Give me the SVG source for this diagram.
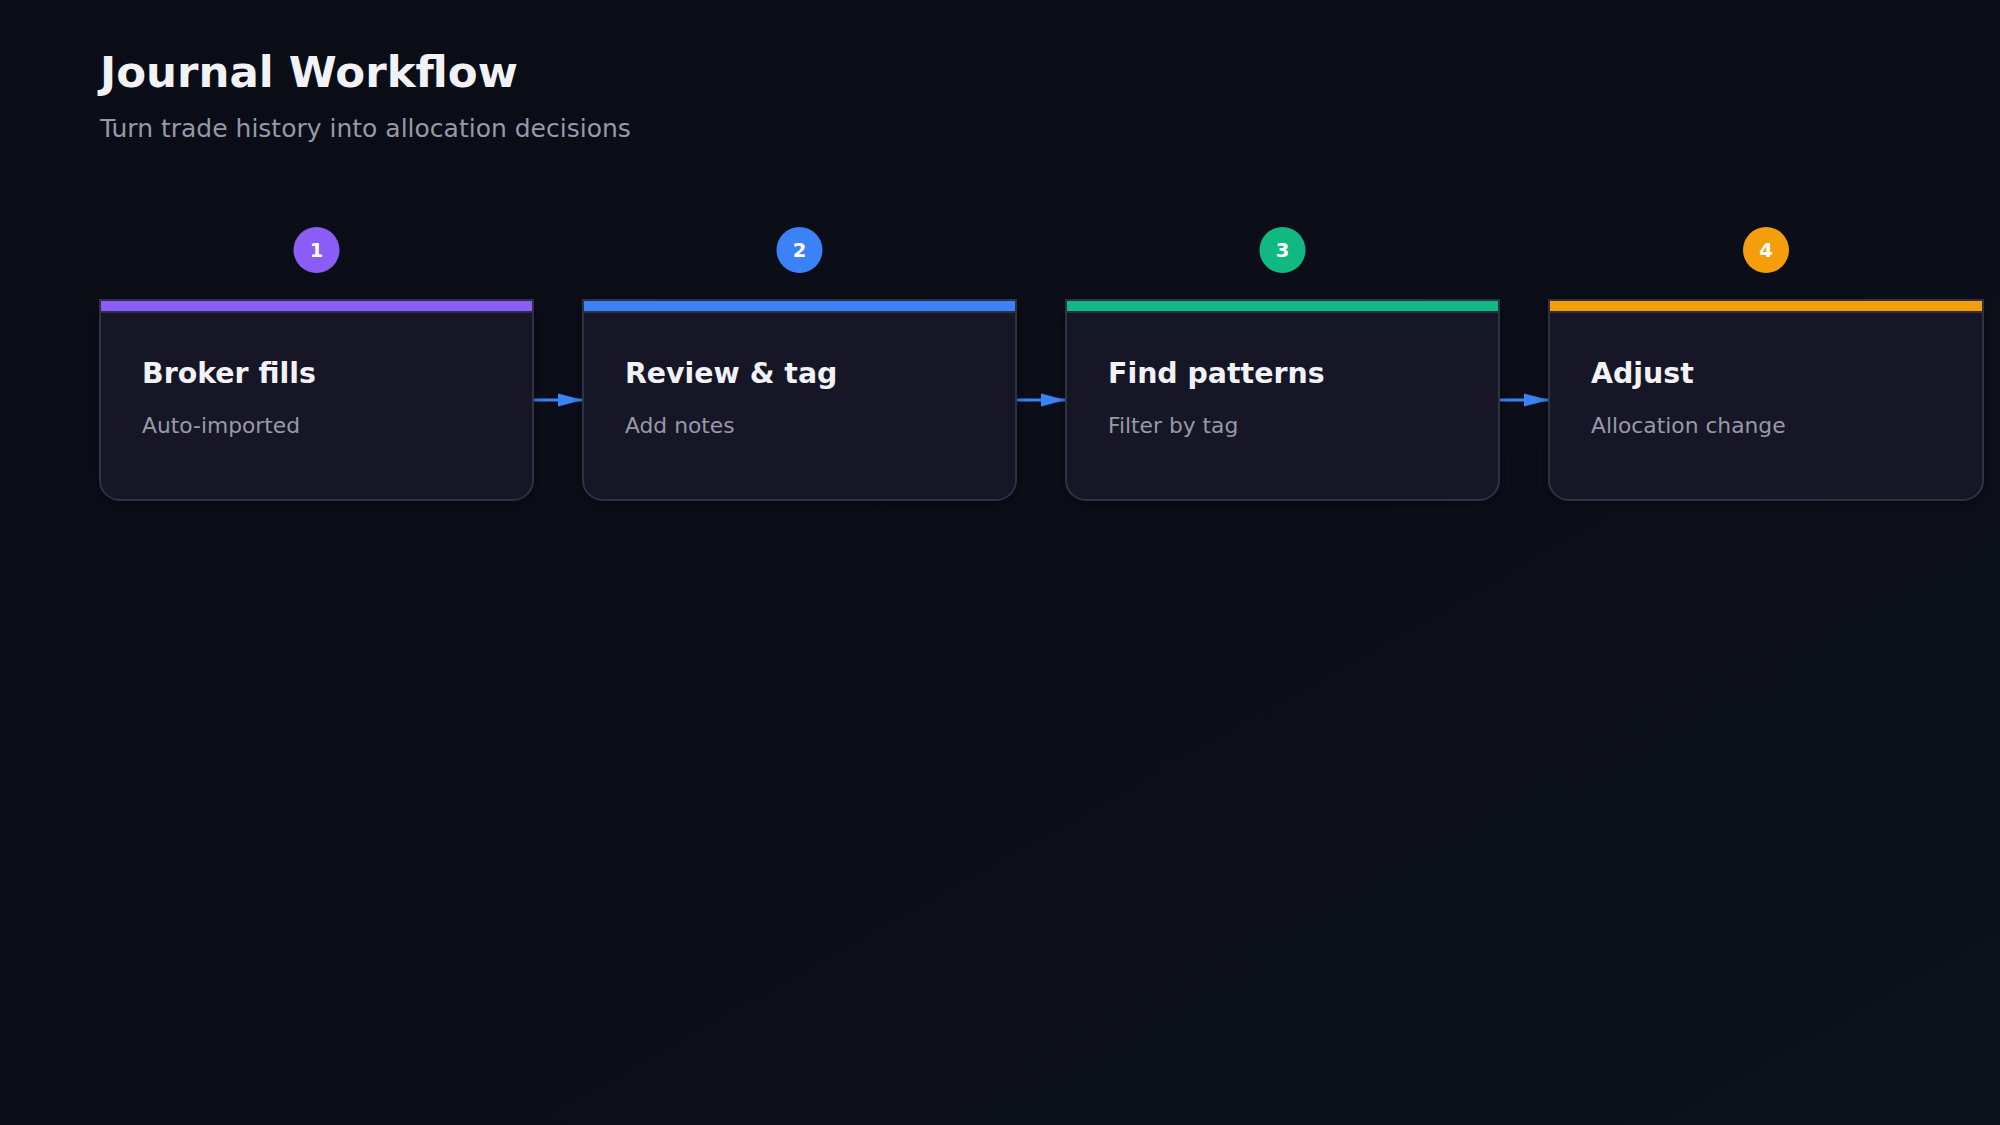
<svg xmlns="http://www.w3.org/2000/svg" width="2000" height="1125" viewBox="0 0 2000 1125">
  <defs>
    <linearGradient id="bg" x1="0" y1="0" x2="1" y2="1">
      <stop offset="0" stop-color="#0a0c16"/>
      <stop offset="0.55" stop-color="#0b0e18"/>
      <stop offset="1" stop-color="#0c111c"/>
    </linearGradient>
    <filter id="shadow" x="-10%" y="-10%" width="120%" height="130%">
      <feDropShadow dx="0" dy="4" stdDeviation="6" flood-color="#000000" flood-opacity="0.35"/>
    </filter>
    <marker id="arrow" viewBox="0 0 10 10" refX="10" refY="5" markerWidth="8.5" markerHeight="4.5" markerUnits="strokeWidth" orient="auto" preserveAspectRatio="none">
      <path d="M0,0 L10,5 L0,10 Z" fill="#3b82f6"/>
    </marker>
    <style>
      .title { font-family: "DejaVu Sans", sans-serif; font-weight: bold; font-size: 43.5px; fill: #f1f2f6; }
      .subtitle { font-family: "DejaVu Sans", sans-serif; font-size: 25px; fill: #9699a8; }
      .card { fill: #161625; stroke: #2e3144; stroke-width: 2; filter: url(#shadow); }
      .bar { stroke: #2e3144; stroke-width: 2; }
      .card-title { font-family: "DejaVu Sans", sans-serif; font-weight: bold; font-size: 28.4px; fill: #f1f2f6; }
      .card-sub { font-family: "DejaVu Sans", sans-serif; font-size: 21.8px; fill: #9699a8; }
      .badge-num { font-family: "DejaVu Sans", sans-serif; font-weight: bold; font-size: 19.5px; fill: #ffffff; text-anchor: middle; }
      .link { stroke: #3b82f6; stroke-width: 3; fill: none; marker-end: url(#arrow); }
    </style>
  </defs>

  <rect width="2000" height="1125" fill="url(#bg)"/>

  <text class="title" x="100" y="87">Journal Workflow</text>
  <text class="subtitle" x="100" y="137">Turn trade history into allocation decisions</text>

  <!-- connectors between steps -->
  <g id="connectors">
    <line class="link" x1="534" y1="400" x2="583" y2="400"/>
    <line class="link" x1="1017" y1="400" x2="1066" y2="400"/>
    <line class="link" x1="1500" y1="400" x2="1549" y2="400"/>
  </g>

  <!-- step 1 -->
  <g id="step-1">
    <circle cx="316.5" cy="250" r="23" fill="#8b5cf6"/>
    <text class="badge-num" x="316.5" y="257">1</text>
    <path class="card" d="M100,300 H533 V480 A20,20 0 0 1 513,500 H120 A20,20 0 0 1 100,480 Z"/>
    <rect class="bar" x="100" y="300" width="433" height="12" fill="#8b5cf6"/>
    <text class="card-title" x="142" y="383">Broker fills</text>
    <text class="card-sub" x="142" y="433">Auto-imported</text>
  </g>

  <!-- step 2 -->
  <g id="step-2">
    <circle cx="799.5" cy="250" r="23" fill="#3b82f6"/>
    <text class="badge-num" x="799.5" y="257">2</text>
    <path class="card" d="M583,300 H1016 V480 A20,20 0 0 1 996,500 H603 A20,20 0 0 1 583,480 Z"/>
    <rect class="bar" x="583" y="300" width="433" height="12" fill="#3b82f6"/>
    <text class="card-title" x="625" y="383">Review &amp; tag</text>
    <text class="card-sub" x="625" y="433">Add notes</text>
  </g>

  <!-- step 3 -->
  <g id="step-3">
    <circle cx="1282.5" cy="250" r="23" fill="#10b981"/>
    <text class="badge-num" x="1282.5" y="257">3</text>
    <path class="card" d="M1066,300 H1499 V480 A20,20 0 0 1 1479,500 H1086 A20,20 0 0 1 1066,480 Z"/>
    <rect class="bar" x="1066" y="300" width="433" height="12" fill="#10b981"/>
    <text class="card-title" x="1108" y="383">Find patterns</text>
    <text class="card-sub" x="1108" y="433">Filter by tag</text>
  </g>

  <!-- step 4 -->
  <g id="step-4">
    <circle cx="1766" cy="250" r="23" fill="#f59e0b"/>
    <text class="badge-num" x="1766" y="257">4</text>
    <path class="card" d="M1549,300 H1983 V480 A20,20 0 0 1 1963,500 H1569 A20,20 0 0 1 1549,480 Z"/>
    <rect class="bar" x="1549" y="300" width="434" height="12" fill="#f59e0b"/>
    <text class="card-title" x="1591" y="383">Adjust</text>
    <text class="card-sub" x="1591" y="433">Allocation change</text>
  </g>
</svg>
